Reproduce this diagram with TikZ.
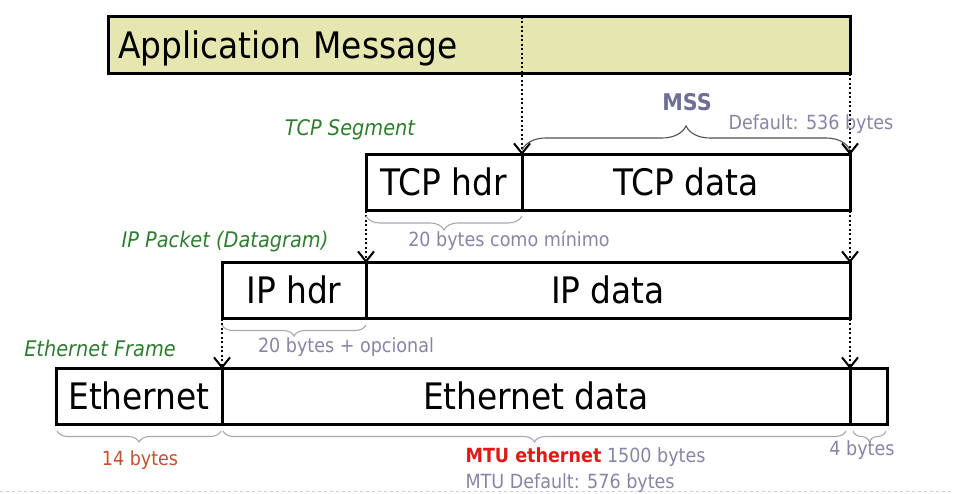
\documentclass[tikz,border=0pt]{standalone}
\usepackage{fontspec}
\setmainfont{DejaVu Sans Condensed}[ItalicFont={DejaVu Sans Condensed Oblique}, BoldFont={DejaVu Sans Condensed Bold}]
\usepackage{xcolor}
\usetikzlibrary{positioning, arrows.meta, decorations.pathreplacing}

\definecolor{appfill}{HTML}{E5E6B0}
\definecolor{notegray}{HTML}{8585A5}
\definecolor{mssblue}{HTML}{6E6E96}
\definecolor{layergreen}{HTML}{2E7D2E}
\definecolor{bracegray}{HTML}{A8A8B4}
\definecolor{bracedark}{HTML}{505050}
\definecolor{hdrred}{HTML}{C0502E}
\definecolor{mtured}{HTML}{E01818}
\definecolor{rulegray}{HTML}{C8CCD8}

\begin{document}
\begin{tikzpicture}[x=1pt, y=-1pt, node distance=0pt,
    field/.style={draw, line width=3pt, minimum height=56pt, inner sep=0pt, outer sep=0pt,
        text height=26pt, text depth=0pt, font=\fontsize{36.5}{40}\selectfont},
    layer/.style={anchor=base, text=layergreen, font=\fontsize{21.5}{24}\selectfont\itshape},
    note/.style={anchor=base, text=notegray, font=\fontsize{19.5}{22}\selectfont},
    flow/.style={dash pattern=on 2pt off 2.5pt, line width=2pt,
        -{Straight Barb[length=10pt, width=16pt, line width=2pt]}},
    bytes/.style={decorate, decoration={brace, amplitude=#1}, draw=bracegray, line width=1.1pt},
    bytes/.default=11pt]
    \useasboundingbox (0,0) rectangle (954,494);

    \node[field, fill=appfill, minimum height=57pt, minimum width=742pt, text width=722pt,
        align=left, anchor=north west] (app) at (108,17) {Application Message};

    \node[field, minimum width=156pt, anchor=north west] (tcphdr) at (366,155) {TCP hdr};
    \node[field, minimum width=328pt, right=of tcphdr] (tcpdata) {TCP data};

    \node[field, minimum width=144pt, anchor=north west] (iphdr) at (222,263) {IP hdr};
    \node[field, minimum width=484pt, right=of iphdr] (ipdata) {IP data};

    \node[field, minimum width=166pt, anchor=north west] (ethhdr) at (56,369) {Ethernet};
    \node[field, minimum width=628pt, right=of ethhdr] (ethdata) {Ethernet data};
    \node[field, minimum width=37pt, right=of ethdata] (ethtrl) {};

    \draw[flow] (app.north -| tcpdata.north west) -- (tcpdata.north west);
    \draw[flow] (app.south east) -- (tcpdata.north east);
    \draw[flow] (tcphdr.south west) -- (iphdr.north east);
    \draw[flow] (tcpdata.south east) -- (ipdata.north east);
    \draw[flow] (iphdr.south west) -- (ethhdr.north east);
    \draw[flow] (ipdata.south east) -- (ethdata.north east);

    \draw[bytes=24pt, draw=bracedark] ([yshift=5pt]tcpdata.north west) -- ([yshift=5pt]tcpdata.north east);
    \draw[bytes=14pt] ([yshift=-5pt]tcphdr.south east) -- ([yshift=-5pt]tcphdr.south west);
    \draw[bytes] ([yshift=-6pt]iphdr.south east) -- ([yshift=-6pt]iphdr.south west);
    \draw[bytes] ([xshift=-1pt, yshift=-6pt]ethhdr.south east) -- ([xshift=1pt, yshift=-6pt]ethhdr.south west);
    \draw[bytes] ([xshift=-4pt, yshift=-6pt]ethdata.south east) -- ([xshift=1pt, yshift=-6pt]ethdata.south west);
    \draw[bytes] ([xshift=-1pt, yshift=-6pt]ethtrl.south east) -- ([xshift=3pt, yshift=-6pt]ethtrl.south west);

    \node[anchor=base, text=mssblue, font=\fontsize{23}{26}\selectfont\bfseries] (mss) at (687,111) {MSS};
    \node[note] (mssdef) at (811,130) {Default: 536 bytes};
    \node[layer] (tcpseg) at (350,136) {TCP Segment};
    \node[note] (tcpmin) at (509,247) {20 bytes como mínimo};
    \node[layer] (ippkt) at (225,248) {IP Packet (Datagram)};
    \node[note] (ipopt) at (346,353) {20 bytes + opcional};
    \node[layer] (ethfrm) at (100,357) {Ethernet Frame};
    \node[note, text=hdrred] (ethlen) at (140,465) {14 bytes};
    \node[note] (fcslen) at (862,456) {4 bytes};
    \node[note, anchor=base west] (mtu) at (462,463) {\textcolor{mtured}{\bfseries MTU ethernet} 1500 bytes};
    \node[note, anchor=base west] (mtudef) at (462,489) {MTU Default: 576 bytes};

    \draw[rulegray, line width=1pt, dash pattern=on 3pt off 3pt] (0,491) -- (954,491);
\end{tikzpicture}
\end{document}
